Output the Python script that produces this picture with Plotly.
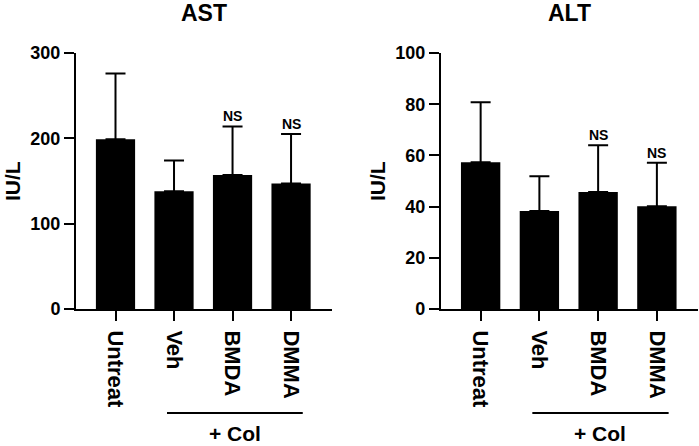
"""AST / ALT serum levels bar charts."""

import plotly.graph_objects as go

groups = ["Untreat", "Veh", "BMDA", "DMMA"]

ast_mean = [199, 138, 157, 147]
ast_sd = [77, 36, 57, 58]

alt_mean = [57.3, 38.3, 45.7, 40.1]
alt_sd = [23.5, 13.6, 18.3, 17.0]

# NS marks only on the treatment groups vs vehicle
ns_groups = ["BMDA", "DMMA"]

panel_titles = ["AST", "ALT"]
y_ranges = [[0, 300], [0, 100]]
y_dticks = [100, 20]
col_group = ("+ Col", 0.88, 3.2)  # label, start/end along the category axis

FONT = "Arial, 'Liberation Sans', sans-serif"

fig = go.Figure()

panels = [(ast_mean, ast_sd), (alt_mean, alt_sd)]
for i, (means, sds) in enumerate(panels):
    suffix = "" if i == 0 else str(i + 1)
    fig.add_trace(
        go.Bar(
            x=groups,
            y=means,
            xaxis="x" + suffix,
            yaxis="y" + suffix,
            marker={"color": "black", "line": {"width": 0}},
            width=0.67,
            error_y={
                "type": "data",
                "symmetric": False,
                "array": sds,
                "arrayminus": [0] * len(sds),
                "color": "black",
                "thickness": 2,
                "width": 10,
            },
            showlegend=False,
        )
    )
    for g in ns_groups:
        k = groups.index(g)
        fig.add_annotation(
            x=g,
            y=means[k] + sds[k],
            xref="x" + suffix,
            yref="y" + suffix,
            text="NS",
            showarrow=False,
            yanchor="bottom",
            yshift=0,
            font={"family": FONT, "size": 14, "color": "black", "weight": "bold"},
        )
    # panel title
    fig.add_annotation(
        x=0.5,
        y=1.156,
        xref=("x" + suffix) + " domain",
        yref="paper",
        text=panel_titles[i],
        showarrow=False,
        yanchor="middle",
        font={"family": FONT, "size": 23, "color": "black", "weight": "bold"},
    )
    # y axis title
    fig.add_annotation(
        x=0,
        y=0.5,
        xref=("x" + suffix) + " domain",
        yref="paper",
        text="IU/L",
        textangle=-90,
        showarrow=False,
        xanchor="center",
        xshift=-64,
        font={"family": FONT, "size": 21, "color": "black", "weight": "bold"},
    )
    # "+ Col" bracket under the treated groups
    label, x0, x1 = col_group
    fig.add_shape(
        type="line",
        xref="x" + suffix,
        yref="paper",
        x0=x0,
        x1=x1,
        y0=-0.406,
        y1=-0.406,
        line={"color": "black", "width": 2},
    )
    fig.add_annotation(
        x=(x0 + x1) / 2,
        y=-0.486,
        xref="x" + suffix,
        yref="paper",
        text=label,
        showarrow=False,
        yanchor="middle",
        font={"family": FONT, "size": 21, "color": "black", "weight": "bold"},
    )

axis_common = {
    "showline": True,
    "linecolor": "black",
    "linewidth": 2,
    "ticks": "outside",
    "ticklen": 10,
    "tickwidth": 2,
    "tickcolor": "black",
    "showgrid": False,
    "zeroline": False,
    "automargin": False,
}

fig.update_layout(
    width=699,
    height=446,
    margin={"l": 76, "r": 1, "t": 53, "b": 137},
    paper_bgcolor="white",
    plot_bgcolor="white",
    font={"family": FONT, "color": "black", "weight": "bold"},
    bargap=0.33,
    xaxis={
        **axis_common,
        "domain": [0, 0.4116],
        "range": [-0.675, 3.7],
        "tickangle": 90,
        "ticklabelstandoff": 5,
        "tickfont": {"size": 22, "weight": "bold"},
        "anchor": "y",
    },
    xaxis2={
        **axis_common,
        "domain": [0.5868, 1],
        "range": [-0.675, 3.7],
        "tickangle": 90,
        "ticklabelstandoff": 5,
        "tickfont": {"size": 22, "weight": "bold"},
        "anchor": "y2",
    },
    yaxis={
        **axis_common,
        "range": y_ranges[0],
        "dtick": y_dticks[0],
        "tickfont": {"size": 18, "weight": "bold"},
        "anchor": "x",
    },
    yaxis2={
        **axis_common,
        "range": y_ranges[1],
        "dtick": y_dticks[1],
        "tickfont": {"size": 18, "weight": "bold"},
        "anchor": "x2",
    },
)

# drop the default body margin so the figure sits flush in the window
_no_body_margin = (
    "var s=document.createElement('style');"
    "s.textContent='html,body{margin:0;padding:0;overflow:hidden}';"
    "document.head.appendChild(s);"
)
fig.write_html(
    "out.html",
    config={"displayModeBar": False},
    post_script=_no_body_margin,
)
